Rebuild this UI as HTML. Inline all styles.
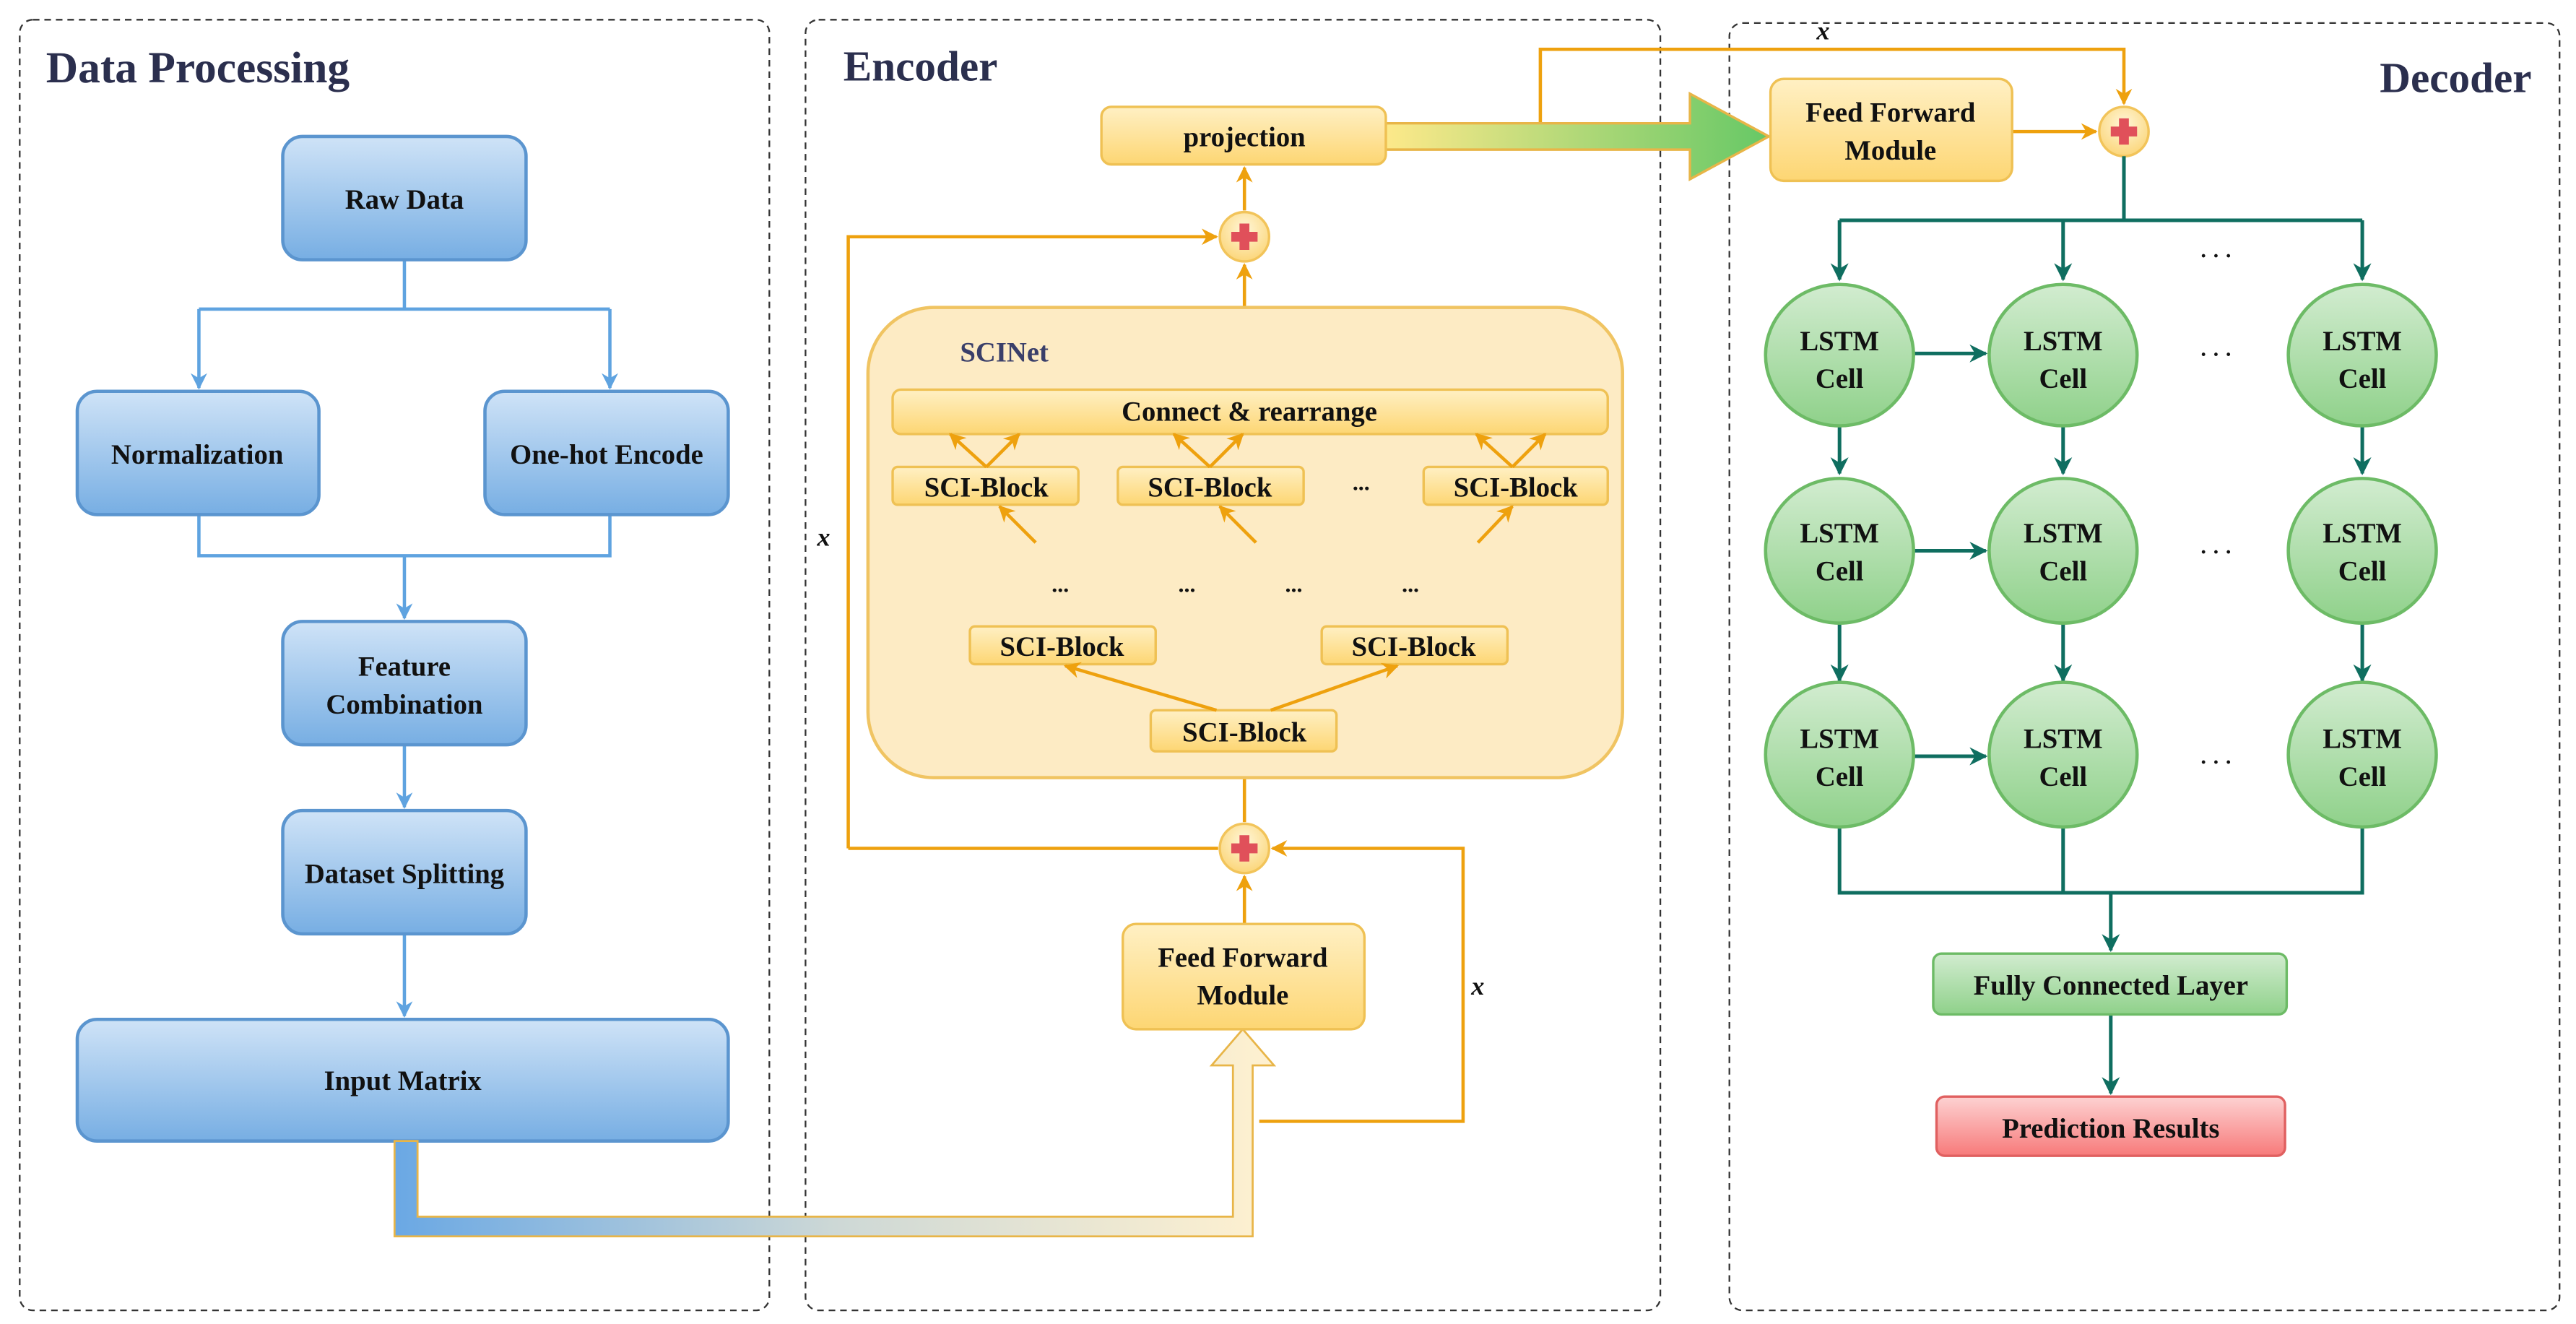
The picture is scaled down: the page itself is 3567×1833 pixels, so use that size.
<!DOCTYPE html>
<html><head><meta charset="utf-8"><style>
html,body{margin:0;padding:0;background:#fff;}
svg{display:block;}
text{font-family:"Liberation Serif",serif;font-weight:bold;}
</style></head><body>
<svg width="3567" height="1833" viewBox="0 0 1567 805.3" preserveAspectRatio="none" xmlns="http://www.w3.org/2000/svg">
<defs>
<linearGradient id="gb" x1="0" y1="0" x2="0" y2="1"><stop offset="0" stop-color="#cfe3f7"/><stop offset="1" stop-color="#77aee3"/></linearGradient>
<linearGradient id="gy" x1="0" y1="0" x2="0" y2="1"><stop offset="0" stop-color="#fff0c4"/><stop offset="1" stop-color="#fdd673"/></linearGradient>
<linearGradient id="gg" x1="0" y1="0" x2="0" y2="1"><stop offset="0" stop-color="#d2ecd0"/><stop offset="1" stop-color="#8fd18a"/></linearGradient>
<linearGradient id="gr" x1="0" y1="0" x2="0" y2="1"><stop offset="0" stop-color="#fdd2d2"/><stop offset="1" stop-color="#f77a7a"/></linearGradient>
<linearGradient id="gband" x1="0" y1="0" x2="1" y2="0"><stop offset="0" stop-color="#6aa8e4"/><stop offset="0.5" stop-color="#cdd8d6"/><stop offset="1" stop-color="#fff1d0"/></linearGradient>
<linearGradient id="gproj" x1="0" y1="0" x2="1" y2="0"><stop offset="0" stop-color="#fde98a"/><stop offset="1" stop-color="#66c866"/></linearGradient>
<radialGradient id="gc" cx="0.5" cy="0.35" r="0.65"><stop offset="0" stop-color="#fff6d8"/><stop offset="1" stop-color="#fbd67a"/></radialGradient>
<marker id="ab" viewBox="0 0 10 10" refX="9" refY="5" markerWidth="5" markerHeight="5" orient="auto"><path d="M0,0 L10,5 L0,10 L3,5z" fill="#5fa3e0"/></marker>
<marker id="ao" viewBox="0 0 10 10" refX="9" refY="5" markerWidth="5" markerHeight="5" orient="auto"><path d="M0,0 L10,5 L0,10 L3,5z" fill="#eea10e"/></marker>
<marker id="at" viewBox="0 0 10 10" refX="9" refY="5" markerWidth="5" markerHeight="5" orient="auto"><path d="M0,0 L10,5 L0,10 L3,5z" fill="#0f6e60"/></marker>
</defs>

<g fill="none" stroke="#333" stroke-width="1" stroke-dasharray="4,3">
<rect x="12" y="12" width="456" height="785" rx="8"/>
<rect x="490" y="12" width="520" height="785" rx="8"/>
<rect x="1052" y="14" width="505" height="783" rx="8"/>
</g>
<text x="28" y="50" font-size="27" fill="#2b2f4e">Data Processing</text>
<text x="513" y="49" font-size="26" fill="#2b2f4e">Encoder</text>
<text x="1540" y="56" font-size="26" fill="#2b2f4e" text-anchor="end">Decoder</text>

<g fill="none" stroke="#5fa3e0" stroke-width="2">
<path d="M246,158 V188"/>
<path d="M121,188 H371"/>
<path d="M121,188 V236" marker-end="url(#ab)"/>
<path d="M371,188 V236" marker-end="url(#ab)"/>
<path d="M121,313 V338 H371 V313"/>
<path d="M246,338 V376" marker-end="url(#ab)"/>
<path d="M246,453 V491" marker-end="url(#ab)"/>
<path d="M246,568 V618" marker-end="url(#ab)"/>
</g>
<g stroke="#5b95cf" stroke-width="2" fill="url(#gb)">
<rect x="172" y="83" width="148" height="75" rx="12"/>
<rect x="47" y="238" width="147" height="75" rx="12"/>
<rect x="295" y="238" width="148" height="75" rx="12"/>
<rect x="172" y="378" width="148" height="75" rx="12"/>
<rect x="172" y="493" width="148" height="75" rx="12"/>
<rect x="47" y="620" width="396" height="74" rx="12"/>
</g>
<g font-size="17" text-anchor="middle" fill="#111">
<text x="246" y="127">Raw Data</text>
<text x="120" y="282">Normalization</text>
<text x="369" y="282">One-hot Encode</text>
<text x="246" y="411">Feature</text>
<text x="246" y="434">Combination</text>
<text x="246" y="537">Dataset Splitting</text>
<text x="245" y="663">Input Matrix</text>
</g>

<path d="M240,694 V752 H762 V648 H775 L756,626 L737,648 H750 V740 H254 V694 Z" fill="url(#gband)" stroke="#e8b548" stroke-width="1.2"/>

<g fill="none" stroke="#eea10e" stroke-width="2">
<path d="M757,500 V458"/>
<path d="M516,516 H741"/>
<path d="M516,516 V144 H740" marker-end="url(#ao)"/>
<path d="M757,562 V533" marker-end="url(#ao)"/>
<path d="M766,682 H890 V516 H774" marker-end="url(#ao)"/>
<path d="M757,237 V161" marker-end="url(#ao)"/>
<path d="M757,128 V102" marker-end="url(#ao)"/>
<path d="M937,76 V30 H1292 V63" marker-end="url(#ao)"/>
<path d="M1224,80 H1275" marker-end="url(#ao)"/>
</g>
<text x="497" y="332" font-size="16" font-style="italic" fill="#111">x</text>
<text x="895" y="605" font-size="16" font-style="italic" fill="#111">x</text>
<text x="1105" y="24" font-size="16" font-style="italic" fill="#111">x</text>

<rect x="528" y="187" width="459" height="286" rx="40" fill="#fdebc4" stroke="#f0c462" stroke-width="2"/>
<text x="584" y="220" font-size="17" fill="#3a3f6a">SCINet</text>
<g fill="url(#gy)" stroke="#efc154" stroke-width="1.5">
<rect x="543" y="237" width="435" height="27" rx="5"/>
<rect x="543" y="284" width="113" height="23" rx="3"/>
<rect x="680" y="284" width="113" height="23" rx="3"/>
<rect x="866" y="284" width="112" height="23" rx="3"/>
<rect x="590" y="381" width="113" height="23" rx="3"/>
<rect x="804" y="381" width="113" height="23" rx="3"/>
<rect x="700" y="432" width="113" height="25" rx="3"/>
</g>
<g font-size="17" text-anchor="middle" fill="#111">
<text x="760" y="256">Connect &amp; rearrange</text>
<text x="600" y="302">SCI-Block</text>
<text x="736" y="302">SCI-Block</text>
<text x="922" y="302">SCI-Block</text>
<text x="646" y="399">SCI-Block</text>
<text x="860" y="399">SCI-Block</text>
<text x="757" y="451">SCI-Block</text>
<text x="828" y="298" font-size="14">...</text>
<text x="645" y="360" font-size="14">...</text>
<text x="722" y="360" font-size="14">...</text>
<text x="787" y="360" font-size="14">...</text>
<text x="858" y="360" font-size="14">...</text>
</g>
<g fill="none" stroke="#eea10e" stroke-width="2">
<path d="M600,284 L578,264" marker-end="url(#ao)"/><path d="M600,284 L620,264" marker-end="url(#ao)"/>
<path d="M736,284 L714,264" marker-end="url(#ao)"/><path d="M736,284 L756,264" marker-end="url(#ao)"/>
<path d="M920,284 L898,264" marker-end="url(#ao)"/><path d="M920,284 L940,264" marker-end="url(#ao)"/>
<path d="M630,330 L608,308" marker-end="url(#ao)"/>
<path d="M764,330 L742,308" marker-end="url(#ao)"/>
<path d="M899,330 L920,308" marker-end="url(#ao)"/>
<path d="M740,432 L648,405" marker-end="url(#ao)"/>
<path d="M773,432 L850,405" marker-end="url(#ao)"/>
</g>

<path d="M843,75 H1028 V57 L1076,83 L1028,109 V91 H843 Z" fill="url(#gproj)" stroke="#e8b548" stroke-width="1.5"/>
<rect x="670" y="65" width="173" height="35" rx="6" fill="url(#gy)" stroke="#efc154" stroke-width="1.5"/>
<text x="757" y="89" font-size="17" text-anchor="middle" fill="#111">projection</text>
<rect x="683" y="562" width="147" height="64" rx="8" fill="url(#gy)" stroke="#efc154" stroke-width="1.5"/>
<text x="756" y="588" font-size="17" text-anchor="middle" fill="#111">Feed Forward</text>
<text x="756" y="611" font-size="17" text-anchor="middle" fill="#111">Module</text>
<rect x="1077" y="48" width="147" height="62" rx="8" fill="url(#gy)" stroke="#efc154" stroke-width="1.5"/>
<text x="1150" y="74" font-size="17" text-anchor="middle" fill="#111">Feed Forward</text>
<text x="1150" y="97" font-size="17" text-anchor="middle" fill="#111">Module</text>

<g>
<circle cx="757" cy="144" r="15" fill="url(#gc)" stroke="#f2c45a" stroke-width="1.5"/>
<circle cx="757" cy="516" r="15" fill="url(#gc)" stroke="#f2c45a" stroke-width="1.5"/>
<circle cx="1292" cy="80" r="15" fill="url(#gc)" stroke="#f2c45a" stroke-width="1.5"/>
</g>
<g fill="#e0505a">
<path d="M754,136h6v5h5v6h-5v5h-6v-5h-5v-6h5z"/>
<path d="M754,508h6v5h5v6h-5v5h-6v-5h-5v-6h5z"/>
<path d="M1289,72h6v5h5v6h-5v5h-6v-5h-5v-6h5z"/>
</g>

<g fill="none" stroke="#0f6e60" stroke-width="2.2">
<path d="M1292,95 V134"/>
<path d="M1119,134 H1437"/>
<path d="M1119,134 V170" marker-end="url(#at)"/>
<path d="M1255,134 V170" marker-end="url(#at)"/>
<path d="M1437,134 V170" marker-end="url(#at)"/>
<path d="M1164,215 H1208" marker-end="url(#at)"/>
<path d="M1164,335 H1208" marker-end="url(#at)"/>
<path d="M1164,460 H1208" marker-end="url(#at)"/>
<path d="M1119,258 V288" marker-end="url(#at)"/>
<path d="M1255,258 V288" marker-end="url(#at)"/>
<path d="M1437,258 V288" marker-end="url(#at)"/>
<path d="M1119,378 V414" marker-end="url(#at)"/>
<path d="M1255,378 V414" marker-end="url(#at)"/>
<path d="M1437,378 V414" marker-end="url(#at)"/>
<path d="M1119,502 V543 H1437 V502"/>
<path d="M1255,502 V543"/>
<path d="M1284,543 V578" marker-end="url(#at)"/>
<path d="M1284,617 V665" marker-end="url(#at)"/>
</g>
<g fill="url(#gg)" stroke="#6dbb66" stroke-width="2">
<ellipse cx="1119" cy="216" rx="45" ry="43"/>
<ellipse cx="1255" cy="216" rx="45" ry="43"/>
<ellipse cx="1437" cy="216" rx="45" ry="43"/>
<ellipse cx="1119" cy="335" rx="45" ry="44"/>
<ellipse cx="1255" cy="335" rx="45" ry="44"/>
<ellipse cx="1437" cy="335" rx="45" ry="44"/>
<ellipse cx="1119" cy="459" rx="45" ry="44"/>
<ellipse cx="1255" cy="459" rx="45" ry="44"/>
<ellipse cx="1437" cy="459" rx="45" ry="44"/>
</g>
<g font-size="17" text-anchor="middle" fill="#111">
<text x="1119" y="213">LSTM</text><text x="1119" y="236">Cell</text>
<text x="1255" y="213">LSTM</text><text x="1255" y="236">Cell</text>
<text x="1437" y="213">LSTM</text><text x="1437" y="236">Cell</text>
<text x="1119" y="330">LSTM</text><text x="1119" y="353">Cell</text>
<text x="1255" y="330">LSTM</text><text x="1255" y="353">Cell</text>
<text x="1437" y="330">LSTM</text><text x="1437" y="353">Cell</text>
<text x="1119" y="455">LSTM</text><text x="1119" y="478">Cell</text>
<text x="1255" y="455">LSTM</text><text x="1255" y="478">Cell</text>
<text x="1437" y="455">LSTM</text><text x="1437" y="478">Cell</text>
<text x="1348" y="160" font-size="13" font-weight="normal">· · ·</text>
<text x="1348" y="220" font-size="13" font-weight="normal">· · ·</text>
<text x="1348" y="340" font-size="13" font-weight="normal">· · ·</text>
<text x="1348" y="468" font-size="13" font-weight="normal">· · ·</text>
</g>
<rect x="1176" y="580" width="215" height="37" rx="5" fill="url(#gg)" stroke="#6dbb66" stroke-width="1.5"/>
<text x="1284" y="605" font-size="17" text-anchor="middle" fill="#111">Fully Connected Layer</text>
<rect x="1178" y="667" width="212" height="36" rx="5" fill="url(#gr)" stroke="#e06060" stroke-width="1.5"/>
<text x="1284" y="692" font-size="17" text-anchor="middle" fill="#111">Prediction Results</text>
</svg>
</body></html>
